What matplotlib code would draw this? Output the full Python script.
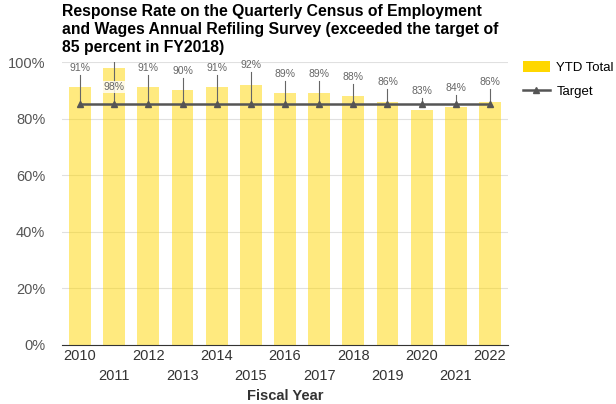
import numpy as np
import matplotlib.pyplot as plt
from matplotlib.patches import Patch
from matplotlib.lines import Line2D

plt.rcParams['font.family'] = ['Liberation Sans', 'DejaVu Sans']

years = ['2010', '2011', '2012', '2013', '2014', '2015', '2016',
         '2017', '2018', '2019', '2020', '2021', '2022']
ytd_total = [91, 98, 91, 90, 91, 92, 89, 89, 88, 86, 83, 84, 86]
target = [85] * len(years)
title = ('Response Rate on the Quarterly Census of Employment\n'
         'and Wages Annual Refiling Survey (exceeded the target of\n'
         '85 percent in FY2018)')

fig = plt.figure(figsize=(6.16, 4.04), dpi=100)
ax = fig.add_axes([62 / 616, 1 - 345 / 404, 446 / 616, 283 / 404])

x = np.arange(len(years))
ax.bar(x, ytd_total, width=0.64, color='#FFD700', alpha=0.5, zorder=2)
ax.plot(x, target, color='#555555', lw=1.8, marker='^', ms=5, zorder=4)

# data labels with leader lines down to the target marker
for i, v in enumerate(ytd_total):
    if v >= 95:
        ly = v - 6.8
        ax.plot([i, i], [v + 3, target[i]], color='#666666', lw=0.8, zorder=3)
        ax.text(i, ly, f'{v}%', ha='center', va='center', fontsize=7.5,
                color='#666666', zorder=5,
                bbox=dict(facecolor='white', edgecolor='none', pad=0.5, alpha=0.8))
    else:
        ly = v + 6.8
        ax.plot([i, i], [ly - 2.4, target[i]], color='#666666', lw=0.8, zorder=3)
        ax.text(i, ly, f'{v}%', ha='center', va='center', fontsize=7.5,
                color='#666666', zorder=5)

ax.set_ylim(0, 100)
ax.set_xlim(-0.53, len(years) - 0.47)
ax.set_yticks([0, 20, 40, 60, 80, 100])
ax.set_yticklabels(['0%', '20%', '40%', '60%', '80%', '100%'])
ax.yaxis.grid(True, color='#e0e0e0', lw=0.8, zorder=0)
ax.set_axisbelow(True)
for s in ['top', 'right', 'left']:
    ax.spines[s].set_visible(False)
ax.spines['bottom'].set_color('#333333')
ax.tick_params(axis='y', length=0, labelsize=10.5, labelcolor='#555555', pad=12)
ax.tick_params(axis='x', length=0, labelsize=10.5, labelcolor='#333333', pad=3)

ax.set_xticks(x)
ax.set_xticklabels([y if i % 2 == 0 else '\n' + y for i, y in enumerate(years)],
                   linespacing=1.55)
ax.set_xlabel('Fiscal Year', fontsize=10.5, fontweight='bold', color='#333333',
              labelpad=4)

fig.text(62 / 616, 1 - 4 / 404, title, ha='left', va='top', fontsize=11.3,
         fontweight='bold', color='black', linespacing=1.25)

handles = [Patch(facecolor='#FFD700', edgecolor='none'),
           Line2D([0], [0], color='#555555', lw=1.8, marker='^', ms=5)]
fig.legend(handles, ['YTD Total', 'Target'], loc='upper left',
           bbox_to_anchor=(520 / 616, 1 - 58 / 404), frameon=False, fontsize=9.5,
           handlelength=2.1, handleheight=1.0, handletextpad=0.45,
           labelspacing=0.8, borderaxespad=0, borderpad=0.2)

fig.savefig('out.png', dpi=100)
